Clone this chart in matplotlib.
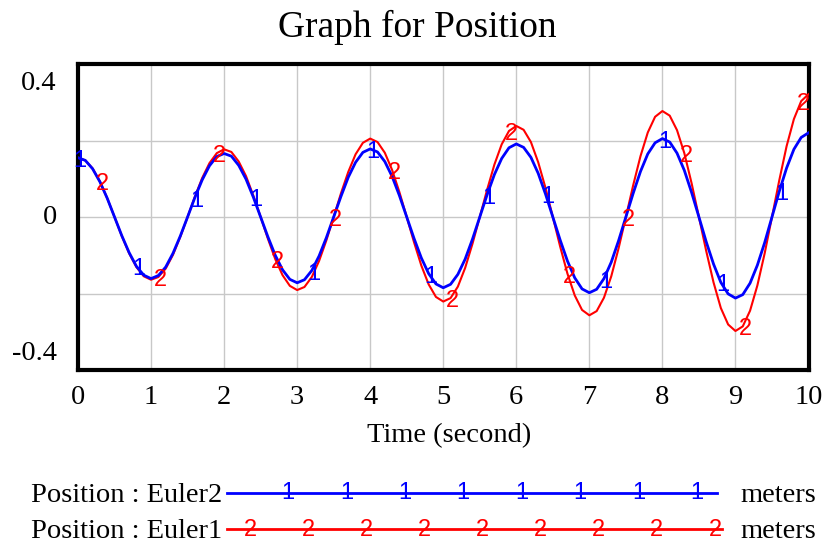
import numpy as np
import matplotlib.pyplot as plt

# time axis (seconds), one sample every 0.1 s
time = np.linspace(0, 10, 101)

# Position : Euler2 (blue, "1")
euler2 = [
    0.155, 0.148, 0.126, 0.092, 0.049, 0.000, -0.049, -0.093, -0.129, -0.152,
    -0.161, -0.153, -0.131, -0.095, -0.050, 0.000, 0.051, 0.097, 0.134, 0.158,
    0.166, 0.159, 0.135, 0.099, 0.052, 0.000, -0.052, -0.100, -0.138, -0.163,
    -0.172, -0.164, -0.140, -0.102, -0.054, 0.000, 0.054, 0.104, 0.143, 0.169,
    0.178, 0.170, 0.145, 0.106, 0.056, 0.000, -0.056, -0.107, -0.148, -0.175,
    -0.185, -0.176, -0.150, -0.110, -0.058, 0.000, 0.058, 0.111, 0.153, 0.181,
    0.191, 0.182, 0.156, 0.114, 0.060, 0.000, -0.060, -0.115, -0.159, -0.188,
    -0.198, -0.189, -0.161, -0.118, -0.062, 0.000, 0.062, 0.119, 0.165, 0.194,
    0.205, 0.196, 0.167, 0.122, 0.064, 0.000, -0.065, -0.123, -0.171, -0.201,
    -0.212, -0.203, -0.173, -0.126, -0.067, 0.000, 0.067, 0.128, 0.177, 0.208,
    0.220,
]

# Position : Euler1 (red, "2")
euler1 = [
    0.155, 0.148, 0.127, 0.093, 0.049, 0.000, -0.050, -0.095, -0.131, -0.155,
    -0.164, -0.157, -0.135, -0.099, -0.052, 0.000, 0.053, 0.102, 0.141, 0.167,
    0.177, 0.170, 0.145, 0.107, 0.056, 0.000, -0.057, -0.110, -0.152, -0.180,
    -0.191, -0.183, -0.157, -0.115, -0.061, 0.000, 0.062, 0.118, 0.164, 0.194,
    0.205, 0.196, 0.168, 0.123, 0.065, 0.000, -0.066, -0.127, -0.176, -0.209,
    -0.221, -0.212, -0.182, -0.133, -0.070, 0.000, 0.071, 0.137, 0.190, 0.225,
    0.238, 0.228, 0.196, 0.143, 0.076, 0.000, -0.077, -0.148, -0.205, -0.243,
    -0.257, -0.246, -0.211, -0.155, -0.082, 0.000, 0.083, 0.159, 0.221, 0.262,
    0.277, 0.265, 0.227, 0.167, 0.088, 0.000, -0.089, -0.171, -0.238, -0.281,
    -0.298, -0.286, -0.245, -0.179, -0.095, 0.000, 0.096, 0.185, 0.256, 0.303,
    0.321,
]

x_ticks = list(range(0, 11))
y_labels = ["0.4", "0", "-0.4"]

SERIF = "Liberation Serif"
SANS = "Liberation Sans"
BLUE = "#0000ff"
RED = "#ff0000"

W, H = 824, 546
fig = plt.figure(figsize=(W / 100, H / 100), dpi=100)

def fx(px):
    return px / W

def fy(py):
    return 1 - py / H

# plot area in pixels: left 78, right 808.5, top 64, bottom 370
ax = fig.add_axes([fx(78), fy(370), fx(808.5) - fx(78), fy(64) - fy(370)])
ax.set_xlim(0, 10)
ax.set_ylim(-0.4, 0.4)

# grid
ax.set_xticks(x_ticks)
ax.set_yticks([-0.2, 0, 0.2])
ax.grid(True, color="#c8c8c8", linewidth=1.0)
ax.set_axisbelow(True)
ax.tick_params(axis="both", length=0)
ax.set_yticklabels([])
ax.set_xticklabels([str(t) for t in x_ticks], fontfamily=SERIF, fontsize=20.5)
ax.tick_params(axis="x", pad=11)

for s in ax.spines.values():
    s.set_linewidth(3.0)
    s.set_color("black")

# curves
ax.plot(time, euler1, color=RED, linewidth=1.5, zorder=3)
ax.plot(time, euler2, color=BLUE, linewidth=2.0, zorder=4)

# numbered line markers (Vensim style)
MK = 17
for i in range(0, len(time), 8):
    ax.text(time[i] + 0.03, euler2[i] - 0.008, "1", color=BLUE, fontfamily=SANS,
            fontsize=MK, ha="center", va="center", zorder=5)
for i in range(3, len(time), 8):
    ax.text(time[i] + 0.03, euler1[i] - 0.008, "2", color=RED, fontfamily=SANS,
            fontsize=MK, ha="center", va="center", zorder=5)

# y labels (placed inside the range like the original)
ytr = ax.get_yaxis_transform()
for lab, yv in zip(y_labels, [0.348, 0.0, -0.356]):
    ax.text(-0.029, yv, lab, transform=ytr, ha="right", va="center",
            fontfamily=SERIF, fontsize=20.5)

# title and axis label
fig.text(fx(417.5), fy(37), "Graph for Position", ha="center", va="baseline",
         fontfamily=SERIF, fontsize=27)
fig.text(fx(449), fy(442), "Time (second)", ha="center", va="baseline",
         fontfamily=SERIF, fontsize=20.5)

# legend rows
rows = [
    ("Position : Euler2", BLUE, "1", 502, 492.7, 227, 717, np.linspace(288, 697, 8)),
    ("Position : Euler1", RED, "2", 538, 529.3, 227, 722, np.linspace(250, 715, 9)),
]
for label, col, mk, base, ly, x0, x1, mks in rows:
    fig.text(fx(31), fy(base), label, ha="left", va="baseline",
             fontfamily=SERIF, fontsize=20.5)
    fig.add_artist(plt.Line2D([fx(x0), fx(x1)], [fy(ly), fy(ly)], color=col,
                              linewidth=2.0, transform=fig.transFigure))
    for mx in mks:
        fig.text(fx(mx), fy(ly + 0.5), mk, ha="center", va="center", color=col,
                 fontfamily=SANS, fontsize=MK)
    fig.text(fx(740), fy(base), "meters", ha="left", va="baseline",
             fontfamily=SERIF, fontsize=20.5)

fig.savefig("out.png", dpi=100)
